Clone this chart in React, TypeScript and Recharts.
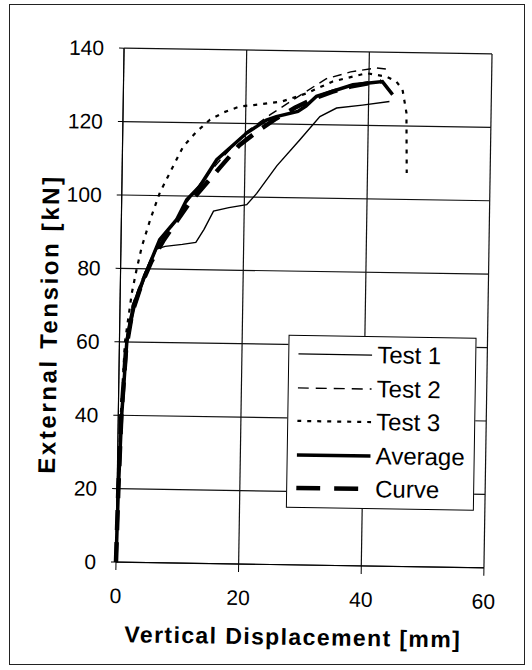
import { LineChart, Line, XAxis, YAxis, CartesianGrid } from "recharts";

// values (displacement in mm, tension in kN)
const test1Disp = [0, 0.2, 0.6, 1.3, 2.5, 4.5, 5.8, 7.2, 10, 12.2, 13.5, 15, 17.5, 20.4, 22, 25.2, 28.9, 32.1, 34.8, 39, 43.4];
const test1Load = [0, 20, 40, 60, 70, 80, 85.4, 86.2, 86.8, 87.4, 91, 96, 97, 97.9, 101, 108.6, 115.8, 122.2, 124.6, 125.5, 126.6];

const test2Disp = [0, 0.2, 0.5, 1.1, 2, 3.5, 5.5, 8, 10.5, 13, 16, 20, 24, 28, 33, 37, 41.2, 43.5];
const test2Load = [0, 22, 42, 60, 70, 77, 85, 91, 98, 104, 110, 117.5, 122.5, 127, 132.5, 134.5, 135.7, 135.3];

const test3Disp = [0, 0.15, 0.4, 0.9, 1.9, 2.6, 3.4, 4.7, 6.2, 8, 9.9, 12, 14.2, 16.5, 19, 22, 25.8, 29.9, 34.1, 39.6, 42.8, 44.5, 45.5, 46.2, 46.4];
const test3Load = [0, 20, 40, 60, 73.4, 79.7, 86, 93.4, 100.8, 107, 113.5, 117.5, 120.9, 123, 124.6, 125.2, 126.1, 128.5, 131.8, 134.2, 133.4, 132, 129.9, 123.6, 107.2];

const avgDisp = [0, 0.2, 0.55, 1.2, 2.2, 3.7, 6.3, 9, 10.6, 12.7, 15.4, 20.2, 23.4, 25, 28.5, 29.8, 31.5, 37.4, 42.2, 43.9];
const avgLoad = [0, 20, 40, 60, 70, 77, 88, 93.5, 99, 102.7, 110, 117.4, 121, 122, 123.5, 125, 127.7, 131, 132, 128.5];

const curveDisp = [0, 0.2, 0.5, 1.1, 2, 3.5, 5, 7, 9, 11, 13.5, 16, 19, 22, 25, 28, 31, 34, 37, 40, 42];
const curveLoad = [0, 20, 40, 58, 68, 76, 82, 88, 93, 98, 103, 108, 114, 118, 121.5, 124.5, 127, 129, 130.5, 131.5, 132];

const xTicks = [0, 20, 40, 60];
const yTicks = [0, 20, 40, 60, 80, 100, 120, 140];

const FONT = "'Liberation Sans', Arial, sans-serif";

const toPoints = (xs: number[], ys: number[]) => xs.map((x, i) => ({ x, y: ys[i] }));

const series = [
  { name: "Test 1", data: toPoints(test1Disp, test1Load), width: 1.4, dash: undefined, legendDash: undefined },
  { name: "Test 2", data: toPoints(test2Disp, test2Load), width: 1.4, dash: "9 6", legendDash: "11 7" },
  { name: "Test 3", data: toPoints(test3Disp, test3Load), width: 2.2, dash: "4 6", legendDash: "4 6" },
  { name: "Average", data: toPoints(avgDisp, avgLoad), width: 3.5, dash: undefined, legendDash: undefined },
  { name: "Curve", data: toPoints(curveDisp, curveLoad), width: 4.5, dash: "20 12", legendDash: "24 14" },
];

const YTitle = () => (
  <text
    x={49}
    y={328}
    transform="rotate(-90 49 328)"
    textAnchor="middle"
    dominantBaseline="central"
    fontFamily={FONT}
    fontSize={24}
    fontWeight="bold"
    letterSpacing={2.6}
    fill="#000"
  >
    External Tension [kN]
  </text>
);

const XTitle = () => (
  <text
    x={298}
    y={637}
    textAnchor="middle"
    dominantBaseline="central"
    fontFamily={FONT}
    fontSize={23}
    fontWeight="bold"
    letterSpacing={1.4}
    fill="#000"
  >
    Vertical Displacement [mm]
  </text>
);

const LegendBox = () => (
  <div
    style={{
      position: "absolute",
      left: 289,
      top: 335,
      width: 186,
      height: 171,
      background: "#fff",
      border: "1.5px solid #000",
      fontFamily: FONT,
      fontSize: 24,
      color: "#000",
    }}
  >
    {series.map((s, i) => (
      <div
        key={s.name}
        style={{ position: "absolute", left: 9, top: 18 + i * 33.5 - 15, height: 30, display: "flex", alignItems: "center" }}
      >
        <svg width={74} height={12}>
          <line x1={0} y1={6} x2={74} y2={6} stroke="#000" strokeWidth={s.width} strokeDasharray={s.legendDash} />
        </svg>
        <span style={{ marginLeft: 5, lineHeight: "30px" }}>{s.name}</span>
      </div>
    ))}
  </div>
);

export default function App() {
  return (
    <div style={{ position: "absolute", left: 0, top: 0, width: 532, height: 670, background: "#fff" }}>
      <div
        style={{
          position: "absolute",
          left: 9,
          top: 4,
          width: 514,
          height: 659,
          border: "1.5px solid #222",
        }}
      />
      <div
        style={{
          position: "absolute",
          left: 0,
          top: 0,
          width: 532,
          height: 670,
          transform: "rotate(0.9deg)",
          transformOrigin: "304px 308px",
        }}
      >
        <LineChart width={532} height={670} margin={{ top: 51, right: 44, bottom: 15, left: 0 }}>
          <CartesianGrid stroke="#111" strokeWidth={1.2} />
          <XAxis
            type="number"
            dataKey="x"
            domain={[0, 60]}
            ticks={xTicks}
            height={90}
            tickSize={8}
            tickMargin={18}
            axisLine={{ stroke: "#000" }}
            tickLine={{ stroke: "#000" }}
            tick={{ fill: "#000", fontSize: 21, fontFamily: FONT }}
            label={{ content: XTitle }}
          />
          <YAxis
            type="number"
            dataKey="y"
            domain={[0, 140]}
            ticks={yTicks}
            width={120}
            tickSize={5}
            tickMargin={15}
            axisLine={{ stroke: "#000" }}
            tickLine={{ stroke: "#000" }}
            tick={{ fill: "#000", fontSize: 21, fontFamily: FONT }}
            label={{ content: YTitle }}
          />
          {series.map((s) => (
            <Line
              key={s.name}
              name={s.name}
              data={s.data}
              dataKey="y"
              type="linear"
              stroke="#000"
              strokeWidth={s.width}
              strokeDasharray={s.dash}
              dot={false}
              activeDot={false}
              isAnimationActive={false}
            />
          ))}
        </LineChart>
        <LegendBox />
      </div>
    </div>
  );
}
